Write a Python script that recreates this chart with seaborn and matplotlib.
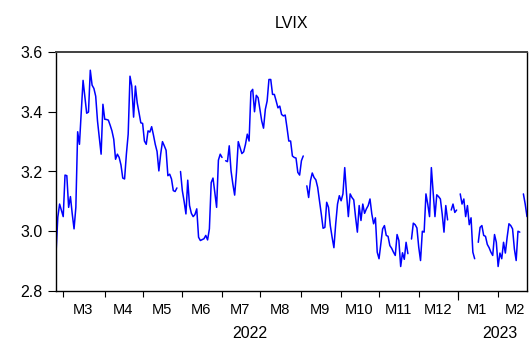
import numpy as np
import pandas as pd
import matplotlib
matplotlib.use("Agg")
import matplotlib.pyplot as plt
import matplotlib.transforms as mtransforms
import seaborn as sns

nan = np.nan

# LVIX, business days 2022-02-23 .. 2023-02-23 (NaN = market holiday)
lvix_feb_may = [2.925, 3.047, 3.091, 3.07, 3.049, 3.188, 3.186, 3.08, 3.116, 3.058,
                3.008, 3.08, 3.333, 3.291, 3.40, 3.505, 3.45, 3.395, 3.399, 3.539,
                3.489, 3.478, 3.452, 3.369, 3.313, 3.258, 3.425, 3.375, 3.374, 3.372,
                3.355, 3.336, 3.308, 3.241, 3.258, 3.247, 3.222, 3.178, 3.175, 3.258,
                3.325, 3.519, 3.486, 3.382, 3.486, 3.43, 3.397, 3.363, 3.361, 3.302,
                3.291, 3.336, 3.332, 3.35, 3.322, 3.291, 3.267, 3.202, 3.258, 3.3,
                3.286, 3.271, 3.186, 3.191, 3.175, 3.136, 3.133, 3.145, nan]
lvix_may_jul = [3.2, 3.136, 3.10, 3.058, 3.171, 3.086, 3.06, 3.049, 3.056, 3.075,
                2.98, 2.969, 2.972, 2.975, 2.986, 2.971, 3.008, 3.163, 3.178, 3.13,
                3.08, 3.238, 3.258, 3.247, nan]
lvix_jul_sep = [3.236, 3.233, 3.286, 3.202, 3.158, 3.121, 3.197, 3.3, 3.28, 3.26,
                3.266, 3.291, 3.325, 3.302, 3.467, 3.475, 3.4, 3.455, 3.447, 3.408,
                3.369, 3.345, 3.408, 3.436, 3.508, 3.508, 3.458, 3.458, 3.436, 3.413,
                3.419, 3.391, 3.386, 3.389, 3.347, 3.302, 3.302, 3.252, 3.247, 3.245,
                3.197, 3.188, 3.236, 3.252, nan]
lvix_sep_nov = [3.152, 3.113, 3.169, 3.195, 3.18, 3.172, 3.147, 3.102, 3.058, 3.01,
                3.013, 3.097, 3.08, 3.019, 2.98, 2.945, 3.025, 3.091, 3.119, 3.102,
                3.125, 3.213, 3.125, 3.049, 3.125, 3.113, 3.105, 3.047, 2.997, 3.086,
                3.036, 3.091, 3.06, 3.075, 3.086, 3.108, 3.058, 3.025, 3.045, 2.93,
                2.908, 2.958, 3.008, 3.019, 2.986, 2.983, 2.952, 2.943, 2.93, 2.919,
                2.989, 2.969, 2.882, 2.928, 2.906, 2.963, 2.925, nan]
lvix_nov_jan = [2.974, 3.027, 3.022, 3.011, 2.947, 2.902, 3.0, 2.997, 3.125, 3.091,
                3.049, 3.213, 3.13, 3.049, 3.122, 3.116, 3.108, 3.058, 2.997, 3.086,
                3.038, nan, 3.071, 3.091, 3.063, 3.071, nan,
                3.125, 3.091, 3.108, 3.049, 3.086, 3.022, 3.045, 2.93, 2.908, nan]
lvix_jan_feb = [2.963, 3.013, 3.019, 2.986, 2.983, 2.956, 2.945, 2.93, 2.919, 2.989,
                2.963, 2.882, 2.927, 2.908, 2.963, 2.927, 2.98, 3.025, 3.019, 3.008,
                2.941, 2.902, 3.0, 2.997, nan, 3.125, 3.091, 3.049]

y_ticks = [2.8, 3.0, 3.2, 3.4, 3.6]
month_labels = ["M3", "M4", "M5", "M6", "M7", "M8", "M9", "M10", "M11", "M12", "M1", "M2"]
year_labels = ["2022", "2023"]

dates = pd.bdate_range("2022-02-23", "2023-02-23")
values = np.array(lvix_feb_may + lvix_may_jul + lvix_jul_sep + lvix_sep_nov
                  + lvix_nov_jan + lvix_jan_feb, dtype=float)
n = min(len(dates), len(values))
df = pd.DataFrame({"obs": np.arange(n), "date": dates[:n], "lvix": values[:n]})
df["seg"] = df["lvix"].isna().cumsum()
plot_df = df.dropna(subset=["lvix"])

sns.set_style("white")
plt.rcParams["font.family"] = ["Liberation Sans", "DejaVu Sans"]

W, H = 531, 345
fig = plt.figure(figsize=(W / 100, H / 100), dpi=100)
L, R, T, B = 56, 527, 52, 291
ax = fig.add_axes([L / W, 1 - B / H, (R - L) / W, (B - T) / H])

sns.lineplot(data=plot_df, x="obs", y="lvix", units="seg", estimator=None,
             color="#0000ff", linewidth=1.1, ax=ax, legend=False)

ax.set_xlim(0, n - 1)
ax.set_ylim(2.8, 3.6)
ax.set_xlabel("")
ax.set_ylabel("")
ax.set_title("LVIX", fontsize=11.5, pad=17, color="black")

ax.set_yticks(y_ticks)
ax.set_yticklabels([f"{v:.1f}" for v in y_ticks], fontsize=11.5)
ax.tick_params(axis="y", direction="out", length=5.8, width=0.8, pad=4,
               left=True, colors="black")

# month boundaries (first observation of each month)
month = df["date"].dt.month.values
starts = [i for i in range(1, n) if month[i] != month[i - 1]]
bounds = starts + [starts[-1] + 20]
centers = [(a + b) / 2 - 0.5 for a, b in zip(bounds[:-1], bounds[1:])]

ax.set_xticks(starts)
ax.set_xticklabels([])
ax.set_xticks(centers, minor=True)
ax.set_xticklabels(month_labels[:len(centers)], minor=True, fontsize=10.5)
ax.tick_params(axis="x", which="major", direction="out", length=4, width=0.8,
               bottom=True, colors="black")
ax.tick_params(axis="x", which="minor", length=0, pad=9, colors="black")

# longer tick at the year boundary
jan_idx = [i for i in starts if df["date"].iloc[i].month == 1]
sec = ax.secondary_xaxis("bottom")
sec.set_xticks(jan_idx)
sec.set_xticklabels([])
sec.tick_params(axis="x", direction="out", length=6.5, width=0.8, colors="black")
sec.spines["bottom"].set_visible(False)

trans = mtransforms.blended_transform_factory(ax.transData, ax.transAxes)
year_pos = [107.5, 246.0]
for xp, lab in zip(year_pos, year_labels):
    ax.text(xp, -0.178, lab, transform=trans, ha="center", va="center",
            fontsize=11.5, color="black")

for s in ["left", "bottom", "right"]:
    ax.spines[s].set_color("black")
    ax.spines[s].set_linewidth(1.0)
    ax.spines[s].set_visible(True)
ax.spines["top"].set_color("#404040")
ax.spines["top"].set_linewidth(1.4)
ax.spines["top"].set_visible(True)
ax.grid(False)

fig.savefig("out.png", dpi=100)
